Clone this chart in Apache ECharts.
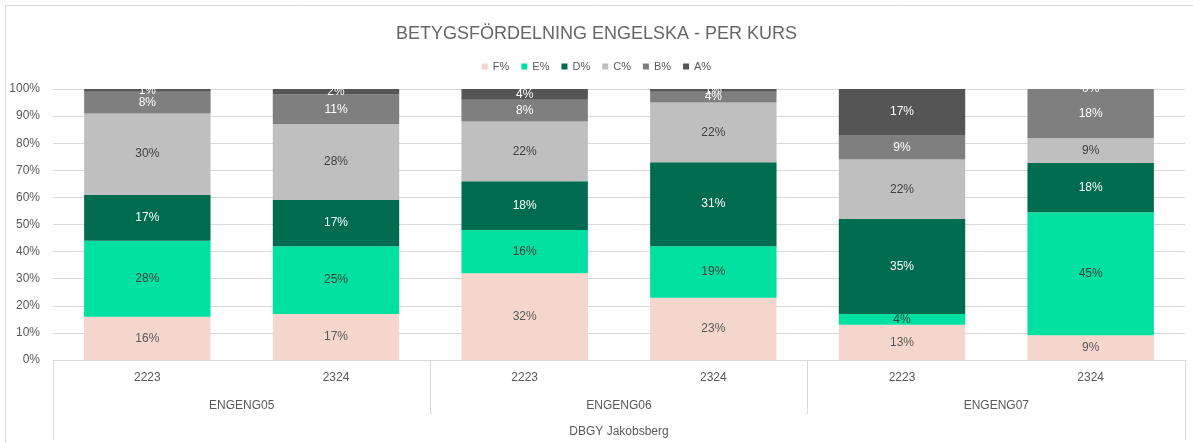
<!DOCTYPE html>
<html lang="sv" style="height: 100%">
<head>
    <meta charset="UTF-8">
    <title>Betygsfördelning engelska - per kurs</title>
    <script type="text/javascript" src="https://cdn.jsdelivr.net/npm/echarts/dist/echarts.min.js"></script>
</head>
<body style="height: 100%; margin: 0; background: #fff">
<div id="container" style="width: 1193px; height: 443px"></div>
<script type="text/javascript">
    // kategorier (tre nivåer på x-axeln)
    var years = ['2223', '2324', '2223', '2324', '2223', '2324'];
    var courses = ['ENGENG05', 'ENGENG06', 'ENGENG07'];
    var school = ['DBGY Jakobsberg'];

    // andel per betyg (%)
    var gradeF = [16, 17, 32, 23, 13, 9.09];
    var gradeE = [28, 25, 16, 19, 4, 45.45];
    var gradeD = [17, 17, 18, 31, 35, 18.18];
    var gradeC = [30, 28, 22, 22, 22, 9.09];
    var gradeB = [8, 11, 8, 4, 9, 18.18];
    var gradeA = [1, 2, 4, 1, 17, 0];

    var names = ['F%', 'E%', 'D%', 'C%', 'B%', 'A%'];
    var values = [gradeF, gradeE, gradeD, gradeC, gradeB, gradeA];
    var colors = ['#F5D6CC', '#00E0A0', '#006C4F', '#BFBFBF', '#7F7F7F', '#555555'];
    var labelColors = ['#595959', '#404040', '#FFFFFF', '#404040', '#FFFFFF', '#FFFFFF'];

    var font = "'Liberation Sans', sans-serif";
    var myChart = echarts.init(document.getElementById('container'));

    var series = [];
    for (var i = 0; i < names.length; i++) {
        series.push({
            name: names[i],
            type: 'bar',
            stack: 'total',
            barWidth: '67%',
            data: values[i],
            itemStyle: {color: colors[i]},
            label: {
                show: true,
                position: 'inside',
                color: labelColors[i],
                fontSize: 12,
                fontFamily: font,
                formatter: function (p) { return Math.round(p.value) + '%'; }
            }
        });
    }

    myChart.setOption({
        animation: false,
        textStyle: {fontFamily: font},
        graphic: [{
            type: 'rect',
            shape: {x: 5.5, y: 5.5, width: 1200, height: 460},
            style: {fill: 'none', stroke: '#D9D9D9', lineWidth: 1},
            z: -10
        }],
        title: {
            text: 'BETYGSFÖRDELNING ENGELSKA - PER KURS',
            left: 'center',
            top: 20,
            textStyle: {fontSize: 18, fontWeight: 'normal', color: '#666666', fontFamily: font}
        },
        legend: {
            top: 56,
            left: 'center',
            icon: 'rect',
            itemWidth: 6,
            itemHeight: 6,
            itemGap: 12,
            textStyle: {fontSize: 11, color: '#595959'},
            data: names
        },
        grid: {left: 53, right: 8, top: 89, bottom: 83},
        xAxis: [{
            type: 'category',
            data: years,
            axisLine: {lineStyle: {color: '#D9D9D9'}},
            axisTick: {show: false},
            axisLabel: {margin: 12, fontSize: 12, color: '#595959'}
        }, {
            type: 'category',
            data: courses,
            position: 'bottom',
            axisLine: {show: false},
            axisTick: {show: true, length: 54, lineStyle: {color: '#D9D9D9'}},
            axisLabel: {margin: 40, fontSize: 12, color: '#595959'}
        }, {
            type: 'category',
            data: school,
            position: 'bottom',
            axisLine: {show: false},
            axisTick: {show: true, length: 80, lineStyle: {color: '#D9D9D9'}},
            axisLabel: {margin: 66, fontSize: 12, color: '#595959'}
        }],
        yAxis: {
            type: 'value',
            min: 0,
            max: 100,
            interval: 10,
            axisLine: {show: false},
            axisTick: {show: false},
            axisLabel: {formatter: '{value}%', margin: 13, fontSize: 12, color: '#595959'},
            splitLine: {lineStyle: {color: '#D9D9D9'}}
        },
        series: series
    });
</script>
</body>
</html>
